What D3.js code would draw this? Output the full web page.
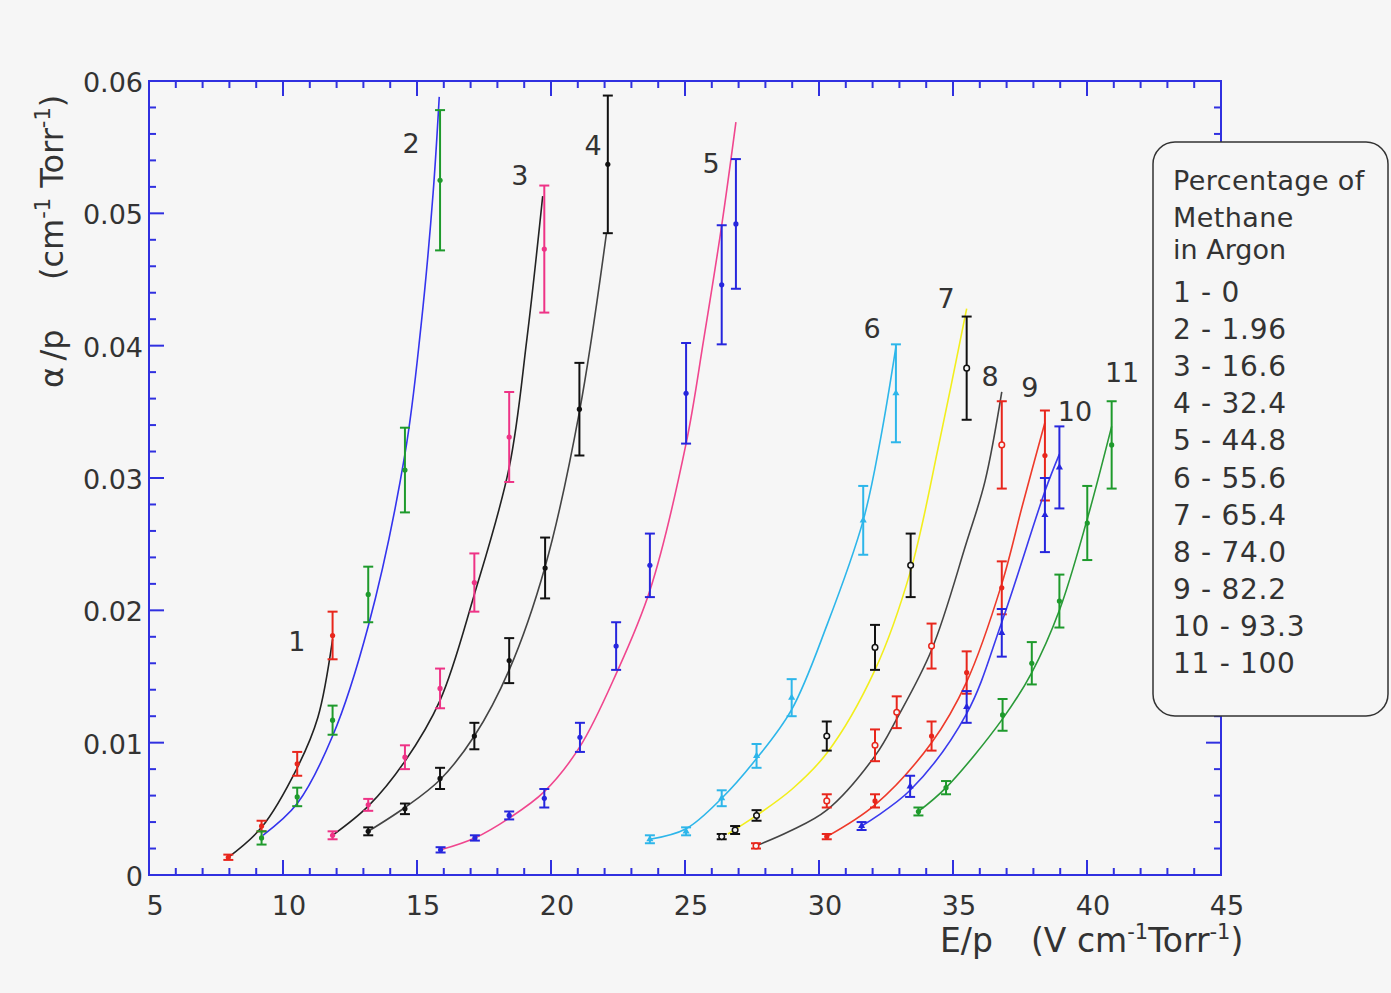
<!DOCTYPE html>
<meta charset="utf-8">
<script src="https://d3js.org/d3.v7.min.js"></script>
<style>
  body { margin: 0; background: #f6f6f6; }
  text { font-family: "DejaVu Sans", Verdana, sans-serif; fill: #333; }
</style>
<svg id="chart" width="1391" height="993"></svg>
<script>
// measured points: [E/p, alpha/p, error]
const pts1 = [[7.96,0.00134,0.0002],[9.2,0.0037,0.0004],[10.53,0.0084,0.0009],[11.85,0.0181,0.0018]];
const pts2 = [[9.2,0.0028,0.0005],[10.53,0.0059,0.0007],[11.85,0.0117,0.0011],[13.18,0.0212,0.0021],[14.55,0.0306,0.0032],[15.86,0.0525,0.0053]];
const pts3 = [[11.85,0.0030,0.0003],[13.18,0.0053,0.00045],[14.55,0.0089,0.0009],[15.86,0.0141,0.0015],[17.14,0.0221,0.0022],[18.44,0.0331,0.0034],[19.75,0.0473,0.0048]];
const pts4 = [[13.18,0.0033,0.0003],[14.55,0.0050,0.0004],[15.86,0.0073,0.0008],[17.14,0.0105,0.0010],[18.44,0.0162,0.0017],[19.78,0.0232,0.0023],[21.06,0.0352,0.0035],[22.12,0.0537,0.0052]];
const pts5 = [[15.88,0.0019,0.0002],[17.16,0.0028,0.0002],[18.44,0.0045,0.0003],[19.75,0.0058,0.0007],[21.08,0.0104,0.0011],[22.43,0.0173,0.0018],[23.69,0.0234,0.0024],[25.04,0.0364,0.0038],[26.37,0.0446,0.0045],[26.9,0.0492,0.0049]];
const pts6 = [[23.69,0.0027,0.0003],[25.04,0.0033,0.0003],[26.37,0.0058,0.0006],[27.67,0.0090,0.0009],[28.98,0.0134,0.0014],[31.65,0.0268,0.0026],[32.87,0.0364,0.0037]];
const pts7 = [[26.37,0.0029,0.0002],[26.87,0.0034,0.0003],[27.67,0.0045,0.0004],[30.29,0.0105,0.0011],[32.09,0.0172,0.0017],[33.42,0.0234,0.0024],[35.51,0.0383,0.0039]];
const pts8 = [[27.65,0.0022,0.0002],[30.29,0.0056,0.0005],[32.09,0.0098,0.0012],[32.9,0.0123,0.0012],[34.2,0.0173,0.0017],[36.82,0.0325,0.0033]];
const pts9 = [[30.29,0.0029,0.0002],[32.09,0.0056,0.0005],[34.2,0.0105,0.0011],[35.51,0.0153,0.0016],[36.82,0.0217,0.0020],[38.43,0.0317,0.0034]];
const pts10 = [[31.59,0.0037,0.0003],[33.4,0.0067,0.0008],[35.51,0.0127,0.0012],[36.82,0.0183,0.0018],[38.43,0.0272,0.0028],[38.97,0.0308,0.0031]];
const pts11 = [[33.71,0.0048,0.0003],[34.74,0.0066,0.0005],[36.85,0.0121,0.0012],[37.94,0.0160,0.0016],[38.97,0.0207,0.0020],[40.01,0.0266,0.0028],[40.92,0.0325,0.0033]];

// fitted curves: [E/p, alpha/p]
const fit1 = [[7.96,0.00134],[9.2,0.0036],[10.53,0.0081],[11.3,0.0119],[11.85,0.0178]];
const fit2 = [[9.25,0.0030],[10.53,0.0054],[11.85,0.0105],[13.18,0.0188],[14.55,0.0318],[15.15,0.0415],[15.6,0.0515],[15.83,0.0588]];
const fit3 = [[11.85,0.0030],[13.18,0.0052],[14.55,0.0086],[15.86,0.0132],[17.14,0.0212],[18.44,0.0308],[19.1,0.0405],[19.69,0.0513]];
const fit4 = [[13.18,0.0033],[14.55,0.0051],[15.86,0.0072],[17.14,0.0105],[18.44,0.0155],[19.78,0.0233],[21.06,0.0350],[22.07,0.0485]];
const fit5 = [[15.88,0.0019],[17.16,0.0028],[18.44,0.0043],[19.75,0.0063],[21.08,0.0097],[22.43,0.0152],[23.69,0.0215],[25.04,0.0326],[25.7,0.0405],[26.37,0.0491],[26.9,0.0569]];
const fit6 = [[23.69,0.0027],[25.04,0.0035],[26.37,0.0058],[27.67,0.0088],[28.98,0.0125],[30.3,0.0189],[31.65,0.0268],[32.3,0.0330],[32.87,0.0399]];
const fit7 = [[26.6,0.0031],[27.67,0.0045],[29.0,0.0065],[30.29,0.0092],[32.09,0.0155],[33.42,0.0230],[34.5,0.0328],[35.51,0.0428]];
const fit8 = [[27.65,0.0022],[28.9,0.0033],[30.29,0.0049],[32.09,0.0090],[32.9,0.0118],[34.2,0.0170],[35.5,0.0251],[36.2,0.0298],[36.82,0.0365]];
const fit9 = [[30.29,0.0029],[32.09,0.0053],[34.2,0.0100],[35.51,0.0146],[36.82,0.0220],[37.6,0.0280],[38.43,0.0342]];
const fit10 = [[31.59,0.0037],[33.4,0.0064],[35.51,0.0122],[36.82,0.0191],[38.43,0.0290],[38.97,0.0318]];
const fit11 = [[33.71,0.0048],[34.74,0.0066],[36.85,0.0118],[37.94,0.0153],[38.97,0.0200],[40.01,0.0269],[40.92,0.0339]];

// curve labels: [text, E/p, alpha/p]
const curveLabels = [["1",10.52,0.0177],["2",14.78,0.0553],["3",18.84,0.0529],["4",21.57,0.0552],["5",25.97,0.0538],
  ["6",31.98,0.0413],["7",34.74,0.0436],["8",36.38,0.0377],["9",37.87,0.0369],["10",39.55,0.0351],["11",41.31,0.0380]];

const legendTitle = ["Percentage of", "Methane"];
const legendItems = ["1 - 0","2 - 1.96","3 - 16.6","4 - 32.4","5 - 44.8","6 - 55.6","7 - 65.4","8 - 74.0","9 - 82.2","10 - 93.3","11 - 100"];

const xMajor = d3.range(5, 46, 5);
const yMajor = [0, 0.01, 0.02, 0.03, 0.04, 0.05, 0.06];

const series = [
  {pts: pts1, fit: fit1, bar: "#e8261c", line: "#222", mark: "dot"},
  {pts: pts2, fit: fit2, bar: "#1e9a2c", line: "#3434ee", mark: "dot"},
  {pts: pts3, fit: fit3, bar: "#ee3386", line: "#222", mark: "dot"},
  {pts: pts4, fit: fit4, bar: "#111", line: "#444", mark: "dot"},
  {pts: pts5, fit: fit5, bar: "#2626dd", line: "#f0468e", mark: "dot"},
  {pts: pts6, fit: fit6, bar: "#2db6ea", line: "#2db6ea", mark: "tri"},
  {pts: pts7, fit: fit7, bar: "#111", line: "#f2ee1c", mark: "open"},
  {pts: pts8, fit: fit8, bar: "#e8261c", line: "#444", mark: "open"},
  {pts: pts9, fit: fit9, bar: "#e8261c", line: "#ee3a2a", mark: "dot"},
  {pts: pts10, fit: fit10, bar: "#2626dd", line: "#3a3aee", mark: "tri"},
  {pts: pts11, fit: fit11, bar: "#1e9a2c", line: "#2a9a38", mark: "dot"}
];

const svg = d3.select("#chart");
const mLeft = 149, mRight = 1221, mTop = 81, mBottom = 875;
const x = d3.scaleLinear().domain([5, 45]).range([mLeft, mRight]);
const y = d3.scaleLinear().domain([0, 0.06]).range([mBottom, mTop]);
const axisColor = "#3030e0";

svg.append("rect").attr("width", 1391).attr("height", 993).attr("fill", "#f6f6f6");

// frame with inward ticks on all four sides
const frame = svg.append("g").attr("stroke", axisColor).attr("stroke-width", 2);
d3.range(5, 46, 1).forEach(v => {
  const len = v % 5 === 0 ? 15 : 7;
  frame.append("line").attr("x1", x(v)).attr("x2", x(v)).attr("y1", mBottom).attr("y2", mBottom - len);
  frame.append("line").attr("x1", x(v)).attr("x2", x(v)).attr("y1", mTop).attr("y2", mTop + len);
});
d3.range(0, 31, 1).forEach(i => {
  const v = i * 0.002, len = i % 5 === 0 ? 15 : 7;
  frame.append("line").attr("y1", y(v)).attr("y2", y(v)).attr("x1", mLeft).attr("x2", mLeft + len);
  frame.append("line").attr("y1", y(v)).attr("y2", y(v)).attr("x1", mRight).attr("x2", mRight - len);
});
frame.append("rect").attr("x", mLeft).attr("y", mTop).attr("width", mRight - mLeft).attr("height", mBottom - mTop)
  .attr("fill", "none");

// tick labels
svg.append("g").selectAll("text").data(xMajor).join("text")
  .attr("x", d => x(d) + 6).attr("y", 915).attr("text-anchor", "middle")
  .attr("font-size", 27).text(d => d);
svg.append("g").selectAll("text").data(yMajor).join("text")
  .attr("x", 143).attr("y", d => y(d) + 11).attr("text-anchor", "end")
  .attr("font-size", 27).text(d => d === 0 ? "0" : d.toFixed(2));

// axis titles
const yt = svg.append("text").attr("transform", "translate(63,388) rotate(-90)").attr("font-size", 32);
yt.append("tspan").attr("x", 0).text("\u03b1\u2009/p");
yt.append("tspan").attr("x", 108).text("(cm");
yt.append("tspan").attr("dy", -13).attr("font-size", 21).text("-1");
yt.append("tspan").attr("dy", 13).text("\u00a0Torr");
yt.append("tspan").attr("dy", -13).attr("font-size", 21).text("-1");
yt.append("tspan").attr("dy", 13).text(")");

const xt = svg.append("text").attr("y", 952).attr("font-size", 33);
xt.append("tspan").attr("x", 940).text("E/p");
xt.append("tspan").attr("x", 1031).text("(V cm");
xt.append("tspan").attr("dy", -13).attr("font-size", 21).text("-1");
xt.append("tspan").attr("dy", 13).text("Torr");
xt.append("tspan").attr("dy", -13).attr("font-size", 21).text("-1");
xt.append("tspan").attr("dy", 13).text(")");

// curves and error bars
const line = d3.line().x(d => x(d[0])).y(d => y(d[1])).curve(d3.curveCatmullRom.alpha(0.5));
const plot = svg.append("g");
series.forEach(s => {
  plot.append("path").datum(s.fit).attr("d", line).attr("fill", "none")
    .attr("stroke", s.line).attr("stroke-width", 1.6);
  const g = plot.append("g").attr("stroke", s.bar).attr("stroke-width", 2);
  const p = g.selectAll("g").data(s.pts).join("g");
  p.append("line").attr("x1", d => x(d[0])).attr("x2", d => x(d[0]))
    .attr("y1", d => y(d[1] - d[2])).attr("y2", d => y(d[1] + d[2]));
  p.append("line").attr("x1", d => x(d[0]) - 5).attr("x2", d => x(d[0]) + 5)
    .attr("y1", d => y(d[1] + d[2])).attr("y2", d => y(d[1] + d[2]));
  p.append("line").attr("x1", d => x(d[0]) - 5).attr("x2", d => x(d[0]) + 5)
    .attr("y1", d => y(d[1] - d[2])).attr("y2", d => y(d[1] - d[2]));
  if (s.mark === "tri") {
    p.append("path").attr("d", d3.symbol(d3.symbolTriangle, 22)())
      .attr("transform", d => `translate(${x(d[0])},${y(d[1])})`).attr("fill", s.bar).attr("stroke", "none");
  } else if (s.mark === "open") {
    p.append("circle").attr("cx", d => x(d[0])).attr("cy", d => y(d[1])).attr("r", 2.8)
      .attr("fill", "#f6f6f6").attr("stroke-width", 1.5);
  } else {
    p.append("circle").attr("cx", d => x(d[0])).attr("cy", d => y(d[1])).attr("r", 2.6)
      .attr("fill", s.bar).attr("stroke", "none");
  }
});

// curve numbers
svg.append("g").selectAll("text").data(curveLabels).join("text")
  .attr("x", d => x(d[1])).attr("y", d => y(d[2]) + 10).attr("text-anchor", "middle")
  .attr("font-size", 27).attr("fill", "#444").text(d => d[0]);

// legend
const lg = svg.append("g");
lg.append("rect").attr("x", 1153).attr("y", 142).attr("width", 235).attr("height", 574)
  .attr("rx", 22).attr("fill", "#f6f6f6").attr("stroke", "#333").attr("stroke-width", 1.5);
lg.selectAll("text.t").data(legendTitle).join("text").attr("class", "t")
  .attr("x", 1173).attr("y", (d, i) => 190 + i * 37).attr("font-size", 27)
  .attr("letter-spacing", 0.4).text(d => d);
lg.append("text").attr("x", 1173).attr("y", 259).attr("font-size", 27).attr("fill", "#222").text("in Argon");
lg.selectAll("text.i").data(legendItems).join("text").attr("class", "i")
  .attr("x", 1173).attr("y", (d, i) => 302 + i * 37.1).attr("font-size", 28)
  .attr("letter-spacing", 0.7).text(d => d);
</script>
